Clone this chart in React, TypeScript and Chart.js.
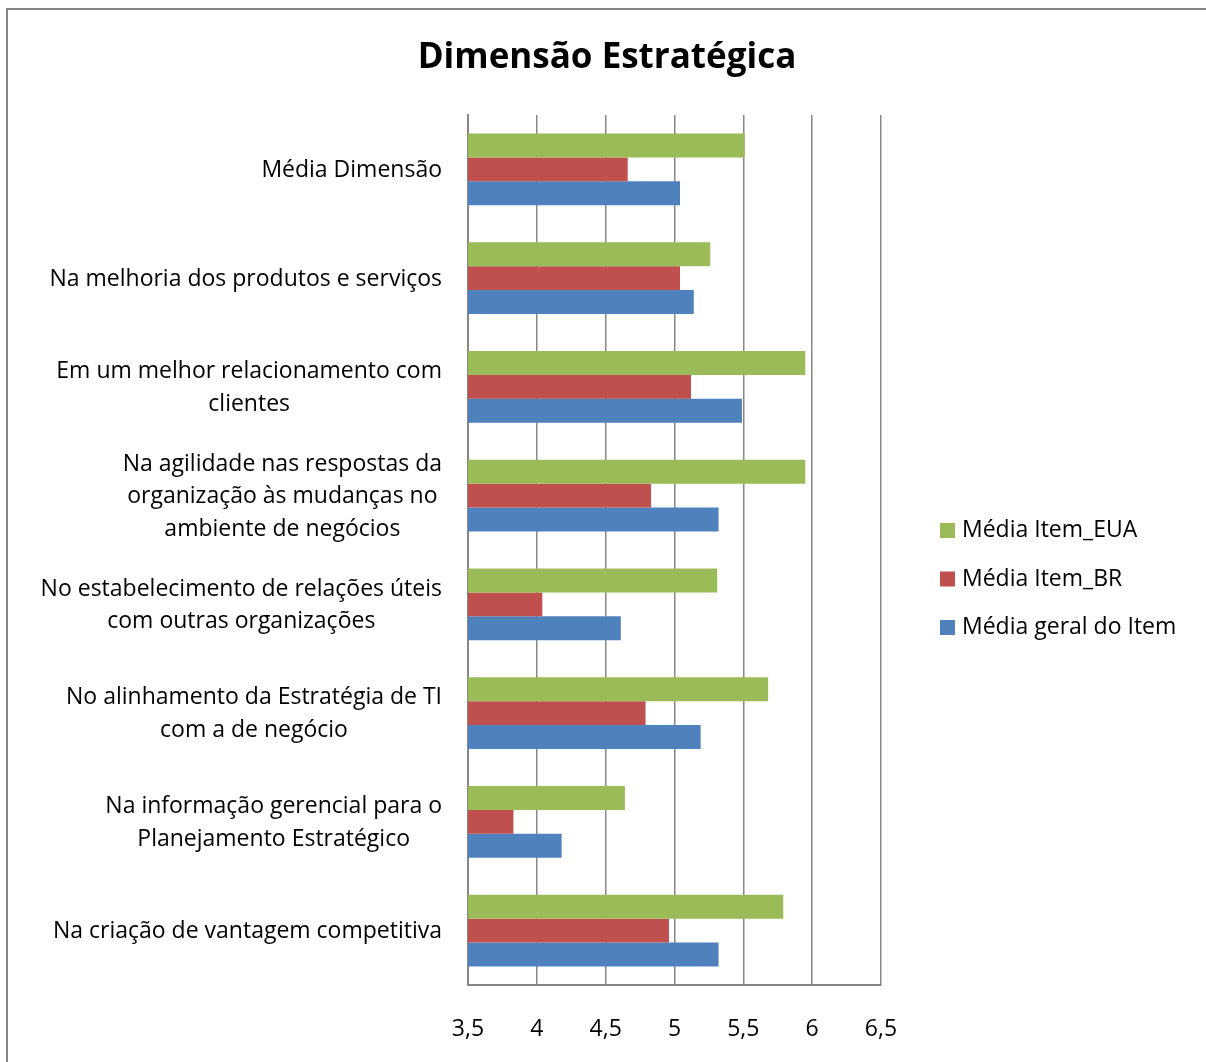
import React, { useEffect, useRef } from "react";
import { Chart, registerables } from "chart.js";

Chart.register(...registerables);

const titleText = "Dimensão Estratégica";

const categories: string[][] = [
  ["Média Dimensão"],
  ["Na melhoria dos produtos e serviços"],
  ["Em um melhor relacionamento com", "clientes"],
  ["Na agilidade nas respostas da", "organização às mudanças no", "ambiente de negócios"],
  ["No estabelecimento de relações úteis", "com outras organizações"],
  ["No alinhamento da Estratégia de TI", "com a de negócio"],
  ["Na informação gerencial para o", "Planejamento Estratégico"],
  ["Na criação de vantagem competitiva"],
];

const seriesLabels = ["Média Item_EUA", "Média Item_BR", "Média geral do Item"];
const euaValues = [5.51, 5.26, 5.95, 5.95, 5.31, 5.68, 4.64, 5.79];
const brValues = [4.66, 5.04, 5.12, 4.83, 4.04, 4.79, 3.83, 4.96];
const geralValues = [5.04, 5.14, 5.49, 5.32, 4.61, 5.19, 4.18, 5.32];
const seriesColors = ["#9BBB59", "#C0504D", "#4F81BD"];

const xMin = 3.5;
const xMax = 6.5;
const xStep = 0.5;

const FONT = "'Open Sans', Lato, sans-serif";
const GRID = "#878787";

const titlePlugin = {
  id: "centerTitle",
  afterDraw(chart: any) {
    const ctx = chart.ctx;
    ctx.save();
    ctx.font = `bold 35px ${FONT}`;
    ctx.fillStyle = "#000";
    ctx.textAlign = "center";
    ctx.textBaseline = "middle";
    ctx.fillText(titleText, chart.width / 2 + 4, 58);
    ctx.restore();
  },
};

const yLabelPlugin = {
  id: "yLabels",
  afterDraw(chart: any) {
    const ctx = chart.ctx;
    const y = chart.scales.y;
    ctx.save();
    ctx.font = `23px ${FONT}`;
    ctx.fillStyle = "#000";
    ctx.textAlign = "center";
    ctx.textBaseline = "middle";
    const lh = 32.5;
    categories.forEach((lines, i) => {
      const cy = y.getPixelForTick(i) + 1;
      const w = Math.max(...lines.map((l) => ctx.measureText(l).width));
      const cx = y.right - 26 - w / 2;
      lines.forEach((l, j) => {
        ctx.fillText(l, cx, cy + (j - (lines.length - 1) / 2) * lh);
      });
    });
    ctx.restore();
  },
};

const legendPlugin = {
  id: "sideLegend",
  afterDraw(chart: any) {
    const ctx = chart.ctx;
    const ds = chart.data.datasets;
    ctx.save();
    ctx.font = `23px ${FONT}`;
    ctx.textAlign = "left";
    ctx.textBaseline = "middle";
    const x0 = chart.chartArea.right + 59;
    const yc = (chart.chartArea.top + chart.chartArea.bottom) / 2;
    const gap = 48.5;
    ds.forEach((d: any, i: number) => {
      const cy = yc + (i - 1) * gap + 29;
      ctx.fillStyle = d.backgroundColor;
      ctx.fillRect(x0, cy - 7.5, 15, 15);
      ctx.fillStyle = "#000";
      ctx.fillText(d.label, x0 + 22, cy);
    });
    ctx.restore();
  },
};

export default function App() {
  const ref = useRef<HTMLCanvasElement>(null);

  useEffect(() => {
    const prev = document.body.style.overflow;
    document.body.style.overflow = "hidden";
    const canvas = ref.current!;
    const chart = new Chart(canvas, {
      type: "bar",
      data: {
        labels: categories.map((c) => c.join(" ")),
        datasets: [
          { label: seriesLabels[0], data: euaValues, backgroundColor: seriesColors[0] },
          { label: seriesLabels[1], data: brValues, backgroundColor: seriesColors[1] },
          { label: seriesLabels[2], data: geralValues, backgroundColor: seriesColors[2] },
        ],
      },
      options: {
        indexAxis: "y",
        animation: false,
        responsive: false,
        maintainAspectRatio: false,
        devicePixelRatio: 1,
        layout: { padding: { left: 0, right: 325, top: 115, bottom: 0 } },
        datasets: {
          bar: { categoryPercentage: 0.662, barPercentage: 1, borderWidth: 0 },
        },
        plugins: {
          legend: { display: false },
          tooltip: { enabled: false },
          title: { display: false },
        },
        scales: {
          x: {
            type: "linear",
            min: xMin,
            max: xMax,
            ticks: {
              stepSize: xStep,
              color: "#000",
              font: { family: FONT, size: 23 },
              padding: 31,
              callback: (v: any) => String(v).replace(".", ","),
            },
            grid: { color: GRID, lineWidth: 1.5, drawTicks: false },
            border: { display: true, color: GRID, width: 2 },
            afterFit: (s: any) => {
              s.height = 77;
            },
          },
          y: {
            ticks: { display: false },
            grid: { display: false, drawTicks: false },
            border: { display: true, color: GRID, width: 2 },
            afterFit: (s: any) => {
              s.width = 468;
            },
          },
        },
      },
      plugins: [titlePlugin, yLabelPlugin, legendPlugin],
    });
    return () => {
      chart.destroy();
      document.body.style.overflow = prev;
    };
  }, []);

  return (
    <div style={{ position: "fixed", left: 0, top: 0, width: 1206, height: 1062, overflow: "hidden", background: "#fff" }}>
      <div
        style={{
          position: "absolute",
          left: 6,
          top: 8,
          width: 1220,
          height: 1080,
          borderLeft: "2px solid #868686",
          borderTop: "2px solid #868686",
          boxSizing: "border-box",
        }}
      />
      <canvas ref={ref} width={1206} height={1062} style={{ position: "absolute", left: 0, top: 0, width: 1206, height: 1062 }} />
    </div>
  );
}
